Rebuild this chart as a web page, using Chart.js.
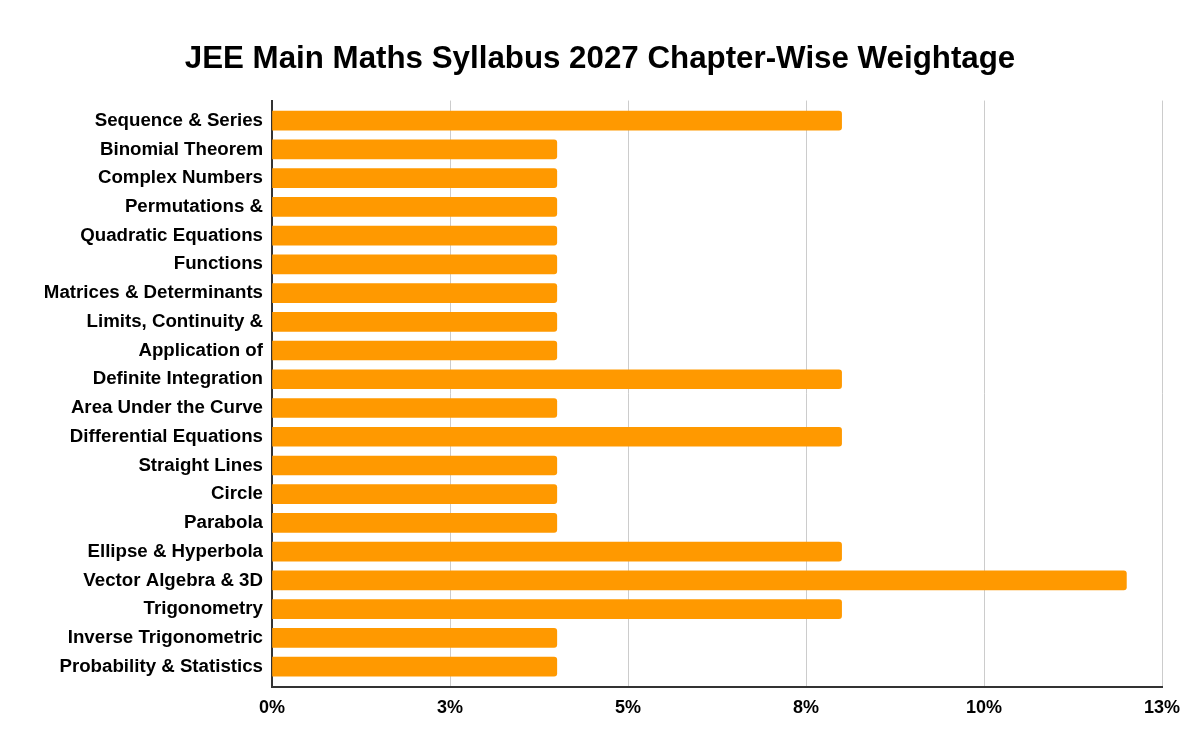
<!DOCTYPE html>
<html>
<head>
<meta charset="utf-8">
<script src="https://cdn.jsdelivr.net/npm/chart.js@4"></script>
<style>
  html, body { margin: 0; padding: 0; background: #fff; }
  #wrap { width: 1200px; height: 756px; }
</style>
</head>
<body>
<div id="wrap"><canvas id="chart"></canvas></div>
<script>
const chapters = [
  'Sequence & Series',
  'Binomial Theorem',
  'Complex Numbers',
  'Permutations &',
  'Quadratic Equations',
  'Functions',
  'Matrices & Determinants',
  'Limits, Continuity &',
  'Application of',
  'Definite Integration',
  'Area Under the Curve',
  'Differential Equations',
  'Straight Lines',
  'Circle',
  'Parabola',
  'Ellipse & Hyperbola',
  'Vector Algebra & 3D',
  'Trigonometry',
  'Inverse Trigonometric',
  'Probability & Statistics',
];
const weightage = [8, 4, 4, 4, 4, 4, 4, 4, 4, 8, 4, 8, 4, 4, 4, 8, 12, 8, 4, 4];
const tickLabels = ['0%', '3%', '5%', '8%', '10%', '13%'];

const font = "'Liberation Sans', Arial, sans-serif";

// y is a numeric row index so the rows can sit a bit in from the axis ends
const points = weightage.map((v, i) => ({ x: v, y: i }));

new Chart(document.getElementById('chart'), {
  type: 'bar',
  data: {
    datasets: [{
      data: points,
      backgroundColor: '#ff9900',
      borderRadius: 3,
      barThickness: 19,
    }],
  },
  options: {
    indexAxis: 'y',
    responsive: true,
    maintainAspectRatio: false,
    animation: false,
    layout: { padding: 0 },
    plugins: {
      legend: { display: false },
      tooltip: { enabled: false },
      title: {
        display: true,
        text: 'JEE Main Maths Syllabus 2027 Chapter-Wise Weightage',
        color: '#000',
        font: { family: font, size: 31.3, weight: 'bold' },
        padding: { top: 41, bottom: 22 },
      },
    },
    scales: {
      x: {
        min: 0,
        max: 12.5,
        ticks: {
          stepSize: 2.5,
          color: '#000',
          padding: 10,
          font: { family: font, size: 18, weight: 'bold' },
          callback: (v, i) => tickLabels[i],
        },
        grid: { color: '#cccccc', drawTicks: false },
        border: { display: true, color: '#333333', width: 2 },
        afterFit: s => { s.height = 69; },
      },
      y: {
        type: 'linear',
        reverse: true,
        offset: false,
        min: -0.7,
        max: 19.71,
        ticks: {
          stepSize: 1,
          includeBounds: false,
          autoSkip: false,
          color: '#000',
          padding: 9,
          font: { family: font, size: 18.7, weight: 'bold' },
          callback: v => (Number.isInteger(v) ? chapters[v] : ''),
        },
        grid: { display: false, drawTicks: false },
        border: { display: true, color: '#333333', width: 2 },
        afterFit: s => { s.width = 272; },
      },
      // empty right-hand axis, only to keep the plot's right margin
      spacer: {
        type: 'linear',
        position: 'right',
        axis: 'y',
        ticks: { display: false },
        grid: { display: false, drawTicks: false },
        border: { display: false },
        afterFit: s => { s.width = 38; },
      },
    },
  },
});
</script>
</body>
</html>
